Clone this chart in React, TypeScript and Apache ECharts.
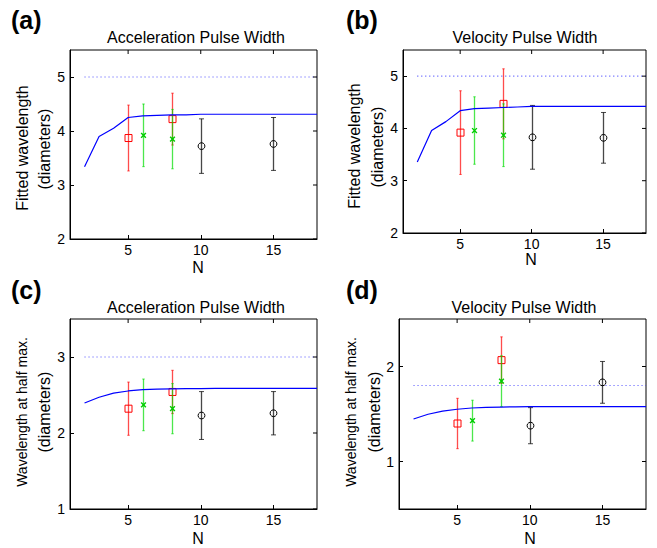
import React, { useEffect, useRef } from "react";
import * as echarts from "echarts";

const FONT = '"Liberation Sans", Arial, Helvetica, sans-serif';

// ---- data ----
const N_LINE = [2, 3, 4, 5, 6, 7, 8, 9, 10, 11, 12, 13, 14, 15, 16, 17, 18];
const LINE_A = [3.34, 3.9, 4.05, 4.25, 4.28, 4.29, 4.3, 4.3, 4.31, 4.31, 4.31, 4.31, 4.31, 4.31, 4.31, 4.31, 4.31];
const LINE_B = [3.36, 3.96, 4.13, 4.34, 4.38, 4.39, 4.4, 4.41, 4.42, 4.42, 4.42, 4.42, 4.42, 4.42, 4.42, 4.42, 4.42];
const LINE_C = [2.395, 2.47, 2.525, 2.553, 2.57, 2.577, 2.58, 2.583, 2.585, 2.587, 2.587, 2.587, 2.587, 2.587, 2.587, 2.587, 2.587];
const LINE_D = [1.447, 1.497, 1.53, 1.55, 1.563, 1.57, 1.573, 1.575, 1.577, 1.577, 1.577, 1.577, 1.577, 1.577, 1.577, 1.577, 1.577];

const REF_N = [2, 18];
const REF_A = 5;
const REF_B = 5;
const REF_C = 3;
const REF_D = 1.8;

const N_RED = [5, 8];
const N_GREEN = [6, 8];
const N_BLACK = [10, 15];

const RED_A = [3.87, 4.22];
const RED_ERR_A = [0.61, 0.48];
const GREEN_A = [3.92, 3.85];
const GREEN_ERR_A = [0.58, 0.55];
const BLACK_A = [3.72, 3.76];
const BLACK_ERR_A = [0.505, 0.49];

const RED_B = [3.92, 4.47];
const RED_ERR_B = [0.8, 0.67];
const GREEN_B = [3.96, 3.87];
const GREEN_ERR_B = [0.645, 0.6];
const BLACK_B = [3.83, 3.82];
const BLACK_ERR_B = [0.61, 0.485];

const RED_C = [2.32, 2.54];
const RED_ERR_C = [0.35, 0.285];
const GREEN_C = [2.37, 2.32];
const GREEN_ERR_C = [0.34, 0.33];
const BLACK_C = [2.23, 2.26];
const BLACK_ERR_C = [0.315, 0.285];

const RED_D = [1.4, 2.067];
const RED_ERR_D = [0.265, 0.245];
const GREEN_D = [1.43, 1.846];
const GREEN_ERR_D = [0.215, 0.267];
const BLACK_D = [1.377, 1.833];
const BLACK_ERR_D = [0.19, 0.22];

const X_TICKS = [5, 10, 15];
const Y_TICKS_AB = [2, 3, 4, 5];
const Y_TICKS_C = [1, 2, 3];
const Y_TICKS_D = [1, 2];

const TITLES = ["Acceleration Pulse Width", "Velocity Pulse Width", "Acceleration Pulse Width", "Velocity Pulse Width"];
const PANEL_LABELS = ["(a)", "(b)", "(c)", "(d)"];
const YNAMES = ["Fitted wavelength", "Fitted wavelength", "Wavelength at half max.", "Wavelength at half max."];
const YNAME2 = "(diameters)";
const XNAME = "N";

type Panel = {
  grid: any;
  yMin: number;
  yMax: number;
  yTicks: number[];
  line: number[];
  ref: number;
  red: number[];
  redErr: number[];
  green: number[];
  greenErr: number[];
  black: number[];
  blackErr: number[];
};

const PANELS: Panel[] = [
  { grid: { left: 70, top: 50, width: 247, height: 189 }, yMin: 2, yMax: 5.5, yTicks: Y_TICKS_AB, line: LINE_A, ref: REF_A, red: RED_A, redErr: RED_ERR_A, green: GREEN_A, greenErr: GREEN_ERR_A, black: BLACK_A, blackErr: BLACK_ERR_A },
  { grid: { left: 403, top: 50, width: 243, height: 183 }, yMin: 2, yMax: 5.5, yTicks: Y_TICKS_AB, line: LINE_B, ref: REF_B, red: RED_B, redErr: RED_ERR_B, green: GREEN_B, greenErr: GREEN_ERR_B, black: BLACK_B, blackErr: BLACK_ERR_B },
  { grid: { left: 70, top: 319, width: 247, height: 190 }, yMin: 1, yMax: 3.5, yTicks: Y_TICKS_C, line: LINE_C, ref: REF_C, red: RED_C, redErr: RED_ERR_C, green: GREEN_C, greenErr: GREEN_ERR_C, black: BLACK_C, blackErr: BLACK_ERR_C },
  { grid: { left: 399, top: 319, width: 247, height: 190 }, yMin: 0.5, yMax: 2.5, yTicks: Y_TICKS_D, line: LINE_D, ref: REF_D, red: RED_D, redErr: RED_ERR_D, green: GREEN_D, greenErr: GREEN_ERR_D, black: BLACK_D, blackErr: BLACK_ERR_D },
];

// text positions (layout)
const LABEL_POS = [[11, 20], [346, 20], [11, 290], [346, 290]];
const TITLE_POS = [[196, 37], [525, 37], [196, 307], [524, 307]];
const YNAME_POS = [[22, 148, 44, 149], [354, 146, 377, 147], [22, 412, 44, 412], [351, 412, 374, 412]];
const YNAME_SIZE = [16, 16, 14, 14];
const XNAME_POS = [[198, 267], [531, 259], [198, 538], [530, 538]];

function errRender(kind: "square" | "x" | "circle") {
  return (params: any, api: any) => {
    const n = api.value(0);
    const v = api.value(1);
    const e = api.value(2);
    const c = api.coord([n, v]);
    const t = api.coord([n, v + e]);
    const b = api.coord([n, v - e]);
    let color = "#000000";
    let barOpacity = 0.72;
    let cap = 2.5;
    if (kind === "square") {
      color = "#ff0000";
      barOpacity = 0.7;
      cap = 1.2;
    } else if (kind === "x") {
      color = "#00dd00";
      barOpacity = 0.7;
      cap = 1.2;
    }
    const x = Math.round(c[0]) + 0.5;
    const children: any[] = [
      { type: "line", shape: { x1: x, y1: t[1], x2: x, y2: b[1] }, style: { stroke: color, lineWidth: 1.3, opacity: barOpacity } },
      { type: "line", shape: { x1: x - cap, y1: t[1], x2: x + cap, y2: t[1] }, style: { stroke: color, lineWidth: 1, opacity: barOpacity } },
      { type: "line", shape: { x1: x - cap, y1: b[1], x2: x + cap, y2: b[1] }, style: { stroke: color, lineWidth: 1, opacity: barOpacity } },
    ];
    if (kind === "square") {
      children.push({ type: "rect", shape: { x: x - 3.5, y: c[1] - 3.5, width: 7, height: 7 }, style: { fill: "none", stroke: "#ff0000", lineWidth: 1 } });
    } else if (kind === "x") {
      const s = 2.4;
      children.push({ type: "line", shape: { x1: x - s, y1: c[1] - s, x2: x + s, y2: c[1] + s }, style: { stroke: "#00cc00", lineWidth: 1.4 } });
      children.push({ type: "line", shape: { x1: x - s, y1: c[1] + s, x2: x + s, y2: c[1] - s }, style: { stroke: "#00cc00", lineWidth: 1.4 } });
    } else {
      children.push({ type: "circle", shape: { cx: x, cy: c[1], r: 3.4 }, style: { fill: "none", stroke: "#000000", lineWidth: 1 } });
    }
    return { type: "group", children };
  };
}

function tickRender(side: "top" | "right") {
  return (params: any, api: any) => {
    const p = api.coord([api.value(0), api.value(1)]);
    if (side === "top") {
      return { type: "line", shape: { x1: p[0], y1: p[1], x2: p[0], y2: p[1] + 4 }, style: { stroke: "#000", lineWidth: 1 } };
    }
    return { type: "line", shape: { x1: p[0], y1: p[1], x2: p[0] - 4, y2: p[1] }, style: { stroke: "#000", lineWidth: 1 } };
  };
}

function buildOption() {
  const grids: any[] = [];
  const xAxes: any[] = [];
  const yAxes: any[] = [];
  const series: any[] = [];
  const graphics: any[] = [];

  PANELS.forEach((p, i) => {
    grids.push({ ...p.grid, containLabel: false, show: true, borderColor: "#000", borderWidth: 1, backgroundColor: "transparent" });
    const xi = xAxes.length;
    xAxes.push({
      type: "value", gridIndex: i, position: "bottom", min: 1, max: 18,
      axisLine: { show: true, onZero: false, lineStyle: { color: "#000", width: 1 } },
      axisTick: { show: true, inside: true, length: 4, customValues: X_TICKS, lineStyle: { color: "#000" } },
      axisLabel: { show: true, customValues: X_TICKS, color: "#000", fontSize: 14, fontFamily: FONT, margin: 4 },
      splitLine: { show: false },
    });
    const yi = yAxes.length;
    yAxes.push({
      type: "value", gridIndex: i, position: "left", min: p.yMin, max: p.yMax,
      axisLine: { show: true, onZero: false, lineStyle: { color: "#000", width: 1 } },
      axisTick: { show: true, inside: true, length: 4, customValues: p.yTicks, lineStyle: { color: "#000" } },
      axisLabel: { show: true, customValues: p.yTicks, color: "#000", fontSize: 14, fontFamily: FONT, margin: 5 },
      splitLine: { show: false },
    });

    // mirrored ticks on top and right edges of the box
    series.push({
      type: "custom", xAxisIndex: xi, yAxisIndex: yi, z: 5, encode: { x: 0, y: 1 }, silent: true,
      data: X_TICKS.map((n) => [n, p.yMax]),
      renderItem: tickRender("top"),
    });
    series.push({
      type: "custom", xAxisIndex: xi, yAxisIndex: yi, z: 5, encode: { x: 0, y: 1 }, silent: true,
      data: p.yTicks.map((v) => [18, v]),
      renderItem: tickRender("right"),
    });

    series.push({
      type: "line", xAxisIndex: xi, yAxisIndex: yi, showSymbol: false, symbol: "none", z: 2,
      data: REF_N.map((n) => [n, p.ref]),
      lineStyle: { color: "#3030ff", width: 1.1, type: [1, 3], opacity: 0.85 },
    });
    series.push({
      type: "custom", xAxisIndex: xi, yAxisIndex: yi, z: 3, encode: { x: 0, y: 1 },
      data: N_RED.map((n, j) => [n, p.red[j], p.redErr[j]]),
      renderItem: errRender("square"),
    });
    series.push({
      type: "custom", xAxisIndex: xi, yAxisIndex: yi, z: 3, encode: { x: 0, y: 1 },
      data: N_GREEN.map((n, j) => [n, p.green[j], p.greenErr[j]]),
      renderItem: errRender("x"),
    });
    series.push({
      type: "custom", xAxisIndex: xi, yAxisIndex: yi, z: 3, encode: { x: 0, y: 1 },
      data: N_BLACK.map((n, j) => [n, p.black[j], p.blackErr[j]]),
      renderItem: errRender("circle"),
    });
    series.push({
      type: "line", xAxisIndex: xi, yAxisIndex: yi, showSymbol: false, symbol: "none", z: 4,
      data: N_LINE.map((n, j) => [n, p.line[j]]),
      lineStyle: { color: "#0000ff", width: 1.2 },
    });

    const mk = (text: string, x: number, y: number, size: number, bold = false, align = "center") => ({
      type: "text", x, y,
      style: {
        text, fill: "#000", fontSize: size, fontFamily: FONT, fontWeight: bold ? "bold" : "normal",
        align, verticalAlign: "middle",
        textAlign: align, textVerticalAlign: "middle",
      },
    });
    const lp = LABEL_POS[i];
    graphics.push(mk(PANEL_LABELS[i], lp[0], lp[1], 25, true, "left"));
    const tp = TITLE_POS[i];
    graphics.push(mk(TITLES[i], tp[0], tp[1], 16));
    const yp = YNAME_POS[i];
    graphics.push({ ...mk(YNAMES[i], yp[0], yp[1], YNAME_SIZE[i]), rotation: Math.PI / 2 });
    graphics.push({ ...mk(YNAME2, yp[2], yp[3], 16), rotation: Math.PI / 2 });
    const np = XNAME_POS[i];
    graphics.push(mk(XNAME, np[0], np[1], 16));
  });

  return {
    animation: false,
    backgroundColor: "#ffffff",
    grid: grids,
    xAxis: xAxes,
    yAxis: yAxes,
    series,
    graphic: graphics,
  };
}

export default function App() {
  const ref = useRef<HTMLDivElement>(null);
  useEffect(() => {
    if (!ref.current) return;
    const chart = echarts.init(ref.current, undefined, { renderer: "svg", width: 657, height: 548 });
    chart.setOption(buildOption() as any);
    return () => chart.dispose();
  }, []);
  return (
    <div
      ref={ref}
      style={{ position: "fixed", left: 0, top: 0, width: 657, height: 548, background: "#fff" }}
    />
  );
}
